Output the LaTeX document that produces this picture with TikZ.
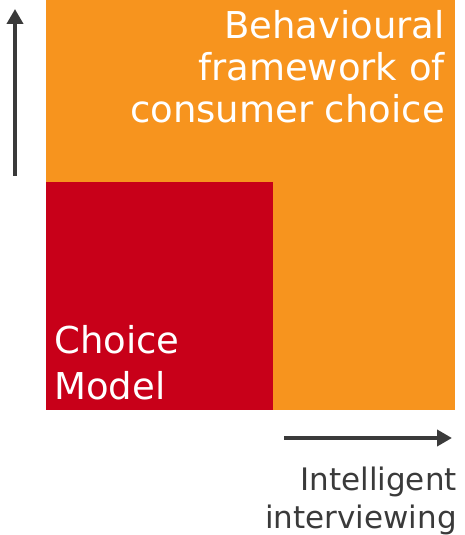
\documentclass[tikz,border=0pt]{standalone}
\usepackage{fontspec}
\setmainfont{DejaVu Sans}
\usetikzlibrary{arrows.meta,positioning}

\definecolor{bainorange}{RGB}{247,148,30}
\definecolor{bainred}{RGB}{200,0,25}
\definecolor{axisgray}{RGB}{58,58,58}

\tikzset{
  axisarrow/.style={draw=axisgray,line width=4pt,-{Triangle[length=15pt,width=16pt]}},
  boxlabel/.style={text=white,inner sep=0pt},
  axislabel/.style={text=axisgray,inner sep=0pt,align=right,font=\fontsize{31}{38}\selectfont}
}

\begin{document}
\begin{tikzpicture}[x=1pt,y=1pt]
\useasboundingbox (0,0) rectangle (464,535);

% the two nested boxes
\fill[bainorange] (46,125) rectangle (455,535);
\fill[bainred] (46,125) rectangle (273,353);

\node[boxlabel,align=right,anchor=north east,font=\fontsize{37}{42}\selectfont] (behav) at (445,525)
  {Behavioural\\framework of\\consumer choice};
\node[boxlabel,align=left,anchor=north west,font=\fontsize{37}{46}\selectfont] (choice) at (54,210)
  {Choice\\Model};

% axes
\coordinate (vstart) at (15,359);
\coordinate (vend) at (15,526);
\coordinate (hstart) at (284,97);
\coordinate (hend) at (452,97);
\draw[axisarrow] (vstart) -- (vend);
\draw[axisarrow] (hstart) -- (hend);

\node[axislabel,anchor=north east] (intel) at (457,68.5) {Intelligent\\interviewing};
\end{tikzpicture}
\end{document}
